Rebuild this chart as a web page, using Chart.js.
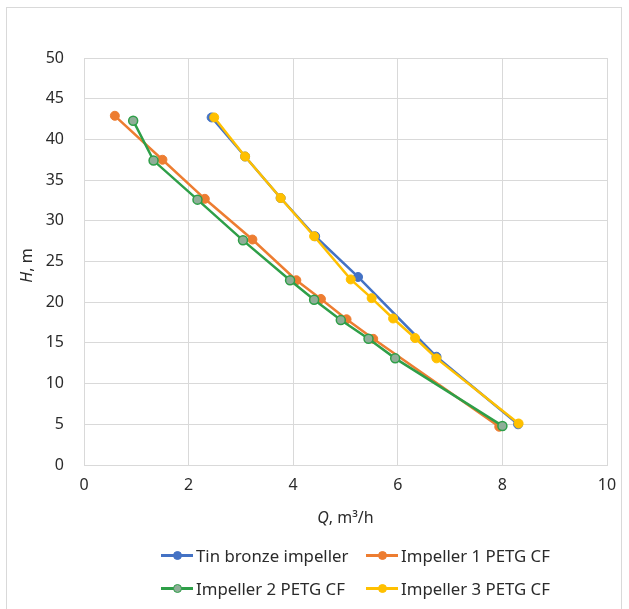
<!DOCTYPE html>
<html>
<head>
<meta charset="utf-8">
<script src="https://cdn.jsdelivr.net/npm/chart.js@4.4.1/dist/chart.umd.min.js"></script>
<style>
    html, body { margin: 0; padding: 0; background: #fff; }
    #wrap { position: relative; width: 629px; height: 609px; overflow: hidden; font-family: "Noto Sans", sans-serif; }
    #frame { position: absolute; left: 6px; top: 7px; width: 616px; height: 640px; border: 1px solid #d9d9d9; box-sizing: border-box; }
    #chart { position: absolute; left: 0; top: 0; }
    #legend { position: absolute; left: 161px; top: 542px; display: grid; grid-template-columns: 205px auto; row-gap: 7px; }
    .item { display: flex; align-items: center; height: 26px; font-size: 16.8px; color: #2b2b2b; white-space: nowrap; }
    .mark { position: relative; width: 32px; height: 10px; margin-right: 3px; }
    .mark .ln { position: absolute; left: 0; right: 0; top: 4px; height: 2.5px; }
    .mark .dot { position: absolute; left: 11.5px; top: 0.5px; width: 9px; height: 9px; border-radius: 50%; box-sizing: border-box; }
</style>
</head>
<body>
<div id="wrap">
    <div id="frame"></div>
    <canvas id="chart" width="629" height="609"></canvas>
    <div id="legend"></div>
</div>
<script>
// Series labels
const seriesNames = ['Tin bronze impeller', 'Impeller 1 PETG CF', 'Impeller 2 PETG CF', 'Impeller 3 PETG CF'];

// Flow Q (m3/h) and head H (m)
const tinQ = [2.44, 3.08, 3.76, 4.42, 5.24, 6.74, 8.30];
const tinH = [42.7, 37.9, 32.8, 28.1, 23.1, 13.3, 5.0];

const imp1Q = [0.59, 1.50, 2.31, 3.22, 4.06, 4.53, 5.02, 5.53, 7.94];
const imp1H = [42.9, 37.5, 32.7, 27.7, 22.7, 20.4, 17.9, 15.5, 4.7];

const imp2Q = [0.94, 1.33, 2.17, 3.04, 3.94, 4.40, 4.91, 5.44, 5.95, 8.00];
const imp2H = [42.3, 37.4, 32.6, 27.6, 22.7, 20.3, 17.8, 15.5, 13.1, 4.8];

const imp3Q = [2.49, 3.08, 3.76, 4.40, 5.10, 5.50, 5.91, 6.33, 6.74, 8.31];
const imp3H = [42.7, 37.9, 32.8, 28.1, 22.8, 20.5, 18.0, 15.6, 13.1, 5.1];

const xTicks = [0, 2, 4, 6, 8, 10];
const yTicks = [0, 5, 10, 15, 20, 25, 30, 35, 40, 45, 50];

const colors = {
    line: ['#4472c4', '#ed7d31', '#2e9f48', '#ffc000'],
    fill: ['#4472c4', '#ed7d31', '#8fae98', '#ffc000']
};

const pts = (qs, hs) => qs.map((q, i) => ({ x: q, y: hs[i] }));
const allData = [pts(tinQ, tinH), pts(imp1Q, imp1H), pts(imp2Q, imp2H), pts(imp3Q, imp3H)];

const tickFont = { family: '"Noto Sans", sans-serif', size: 16 };
const textColor = '#2b2b2b';
const gridColor = '#d9d9d9';

// draw a string made of parts in different font styles, centered at x
function drawMixed(ctx, parts, x, y) {
    let total = 0;
    parts.forEach(p => { ctx.font = p[1] + ' 16px "Noto Sans", sans-serif'; total += ctx.measureText(p[0]).width; });
    let cx = x - total / 2;
    parts.forEach(p => {
        ctx.font = p[1] + ' 16px "Noto Sans", sans-serif';
        ctx.fillText(p[0], cx, y);
        cx += ctx.measureText(p[0]).width;
    });
}

const axisTitles = {
    id: 'axisTitles',
    afterDraw(chart) {
        const { ctx, chartArea: a } = chart;
        ctx.save();
        ctx.fillStyle = textColor;
        ctx.textAlign = 'left';
        ctx.textBaseline = 'middle';
        drawMixed(ctx, [['Q', 'italic'], [', m³/h', 'normal']], (a.left + a.right) / 2, 518);
        ctx.translate(27, (a.top + a.bottom) / 2 + 4);
        ctx.rotate(-Math.PI / 2);
        drawMixed(ctx, [['H', 'italic'], [', m', 'normal']], 0, 0);
        ctx.restore();
    }
};

const chart = new Chart(document.getElementById('chart'), {
    type: 'scatter',
    data: {
        datasets: seriesNames.map((name, i) => ({
            label: name,
            data: allData[i],
            showLine: true,
            borderColor: colors.line[i],
            borderWidth: 2.5,
            pointRadius: 4.5,
            pointBackgroundColor: colors.fill[i],
            pointBorderColor: colors.line[i],
            pointBorderWidth: i === 2 ? 1.5 : 1,
            order: 4 - i // later series drawn on top, like the original
        }))
    },
    options: {
        responsive: false,
        animation: false,
        layout: { padding: { top: 58, right: 22, left: 0, bottom: 0 } },
        scales: {
            x: {
                type: 'linear',
                min: 0,
                max: 10,
                afterBuildTicks: s => { s.ticks = xTicks.map(v => ({ value: v })); },
                afterFit: s => { s.height = 144; },
                ticks: { font: tickFont, color: textColor, padding: 11 },
                grid: { color: gridColor, drawTicks: false },
                border: { color: gridColor }
            },
            y: {
                min: 0,
                max: 50,
                afterBuildTicks: s => { s.ticks = yTicks.map(v => ({ value: v })); },
                afterFit: s => { s.width = 84; },
                ticks: { font: tickFont, color: textColor, padding: 20 },
                grid: { color: gridColor, drawTicks: false },
                border: { color: gridColor }
            }
        },
        plugins: {
            legend: { display: false },
            tooltip: { enabled: false }
        }
    },
    plugins: [axisTitles]
});

// legend in two columns, like the original
const legend = document.getElementById('legend');
seriesNames.forEach((name, i) => {
    const item = document.createElement('div');
    item.className = 'item';
    item.innerHTML = '<span class="mark"><span class="ln" style="background:' + colors.line[i] + '"></span>' +
        '<span class="dot" style="background:' + colors.fill[i] + ';border:1px solid ' + colors.line[i] + '"></span></span>' +
        '<span>' + name + '</span>';
    legend.appendChild(item);
});
</script>
</body>
</html>
